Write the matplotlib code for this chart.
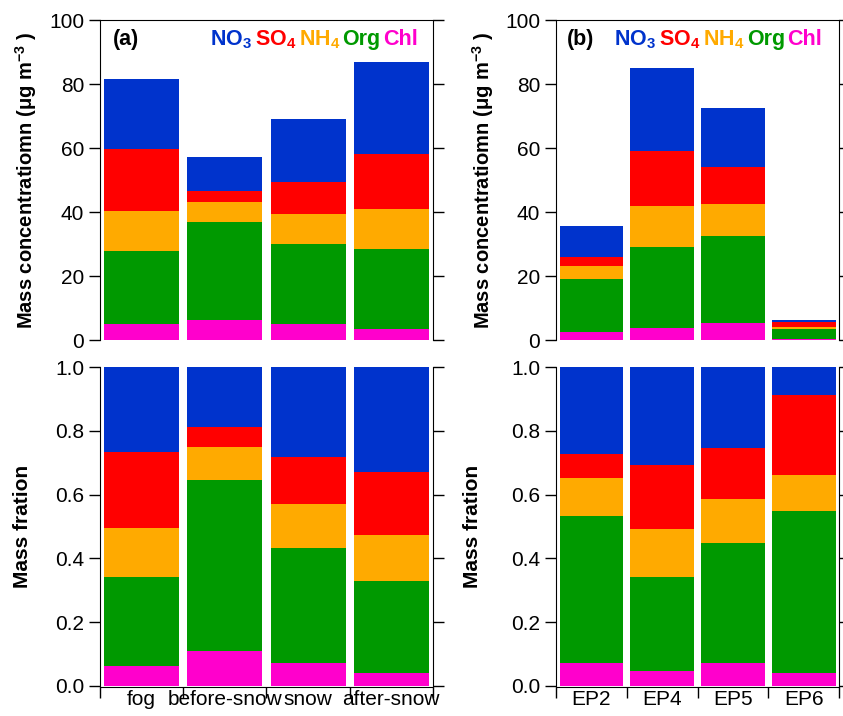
import numpy as np
import matplotlib
matplotlib.use('Agg')
import matplotlib.pyplot as plt

plt.rcParams['font.family'] = ['Liberation Sans', 'DejaVu Sans']
plt.rcParams['mathtext.fontset'] = 'custom'
plt.rcParams['mathtext.rm'] = 'Liberation Sans'
plt.rcParams['mathtext.bf'] = 'Liberation Sans:bold'
plt.rcParams['font.size'] = 15

# species, stacked from bottom to top
species = ['Chl', 'Org', 'NH4', 'SO4', 'NO3']
colors = ['#ff00cc', '#009900', '#ffaa00', '#ff0000', '#0033cc']

# (a) events, mass concentration ug m-3
cats_a = ['fog', 'before-snow', 'snow', 'after-snow']
chl_a = [5.0, 6.3, 5.0, 3.6]
org_a = [22.9, 30.7, 25.0, 24.9]
nh4_a = [12.4, 6.0, 9.4, 12.6]
so4_a = [19.5, 3.6, 10.1, 17.1]
no3_a = [21.7, 10.7, 19.6, 28.6]

# (b) episodes
cats_b = ['EP2', 'EP4', 'EP5', 'EP6']
chl_b = [2.6, 3.9, 5.2, 0.25]
org_b = [16.4, 25.3, 27.3, 3.15]
nh4_b = [4.3, 12.8, 10.0, 0.7]
so4_b = [2.7, 17.0, 11.6, 1.55]
no3_b = [9.7, 26.1, 18.5, 0.55]

fig = plt.figure(figsize=(8.43, 7.16), dpi=100)

# axes boxes (left, bottom, width, height) in figure fraction
ax_a1 = fig.add_axes([0.1186, 0.525, 0.395, 0.447])
ax_a2 = fig.add_axes([0.1186, 0.0419, 0.395, 0.4455])
ax_b1 = fig.add_axes([0.6596, 0.525, 0.3357, 0.447])
ax_b2 = fig.add_axes([0.6596, 0.0419, 0.3357, 0.4455])

renderer = fig.canvas.get_renderer()


def colour_words(ax, x0, y0, parts, gap=2.5):
    # write the coloured species names one after the other
    x = x0
    for s, c in parts:
        t = ax.text(x, y0, s, transform=ax.transAxes, color=c,
                    fontweight='bold', fontsize=15.5, va='baseline', ha='left')
        bb = t.get_window_extent(renderer)
        x = ax.transAxes.inverted().transform((bb.x1 + gap, bb.y0))[0]


def draw_panel(ax_top, ax_bot, cats, values, tag, legend_x, lab_top, lab_bot):
    values = np.array(values, dtype=float)
    total = values.sum(axis=0)
    frac = values / total
    xpos = np.arange(len(cats)) + 0.5

    bottom = np.zeros(len(cats))
    bottom_f = np.zeros(len(cats))
    for i in range(len(species)):
        ax_top.bar(xpos, values[i], width=0.9, bottom=bottom, color=colors[i], linewidth=0)
        ax_bot.bar(xpos, frac[i], width=0.9, bottom=bottom_f, color=colors[i], linewidth=0)
        bottom += values[i]
        bottom_f += frac[i]

    # top panel: concentration
    ax_top.set_xlim(0, len(cats))
    ax_top.set_ylim(0, 100)
    ax_top.set_yticks(np.arange(0, 101, 20))
    ax_top.spines['bottom'].set_visible(False)
    ax_top.tick_params(axis='x', bottom=False, labelbottom=False)
    ax_top.tick_params(axis='y', direction='out', length=8, width=1,
                       right=True, labelright=False, labelsize=15)
    ax_top.set_ylabel(r'Mass concentratiomn (μg m$^{\mathbf{-3}}$ )',
                      fontweight='bold', fontsize=14.5)
    ax_top.yaxis.set_label_coords(lab_top, 0.5)

    # bottom panel: fraction
    ax_bot.set_xlim(0, len(cats))
    ax_bot.set_ylim(0, 1)
    ax_bot.set_yticks(np.arange(0, 1.01, 0.2))
    ax_bot.set_yticklabels(['%.1f' % v for v in np.arange(0, 1.01, 0.2)])
    ax_bot.spines['top'].set_visible(False)
    ax_bot.spines['bottom'].set_position(('outward', 1))
    ax_bot.tick_params(axis='y', direction='out', length=8, width=1,
                       right=True, labelright=False, labelsize=15)
    ax_bot.set_xticks(np.arange(0, len(cats) + 1))
    ax_bot.set_xticklabels([])
    ax_bot.set_xticks(xpos, minor=True)
    ax_bot.set_xticklabels(cats, minor=True)
    ax_bot.tick_params(axis='x', which='major', direction='out', length=8, width=1)
    ax_bot.tick_params(axis='x', which='minor', length=0, pad=2, labelsize=15)
    ax_bot.set_ylabel('Mass fration', fontweight='bold', fontsize=15)
    ax_bot.yaxis.set_label_coords(lab_bot, 0.5)

    ax_top.text(0.04, 0.922, tag, transform=ax_top.transAxes,
                fontweight='bold', fontsize=15.5, va='baseline')
    colour_words(ax_top, legend_x, 0.922,
                 [(r'NO$_\mathbf{3}$', colors[4]), (r'SO$_\mathbf{4}$', colors[3]),
                  (r'NH$_\mathbf{4}$', colors[2]), ('Org', colors[1]),
                  ('Chl', colors[0])])


draw_panel(ax_a1, ax_a2, cats_a, [chl_a, org_a, nh4_a, so4_a, no3_a],
           '(a)', 0.33, -0.182, -0.204)
draw_panel(ax_b1, ax_b2, cats_b, [chl_b, org_b, nh4_b, so4_b, no3_b],
           '(b)', 0.205, -0.212, -0.26)

plt.savefig('out.png', dpi=100)
